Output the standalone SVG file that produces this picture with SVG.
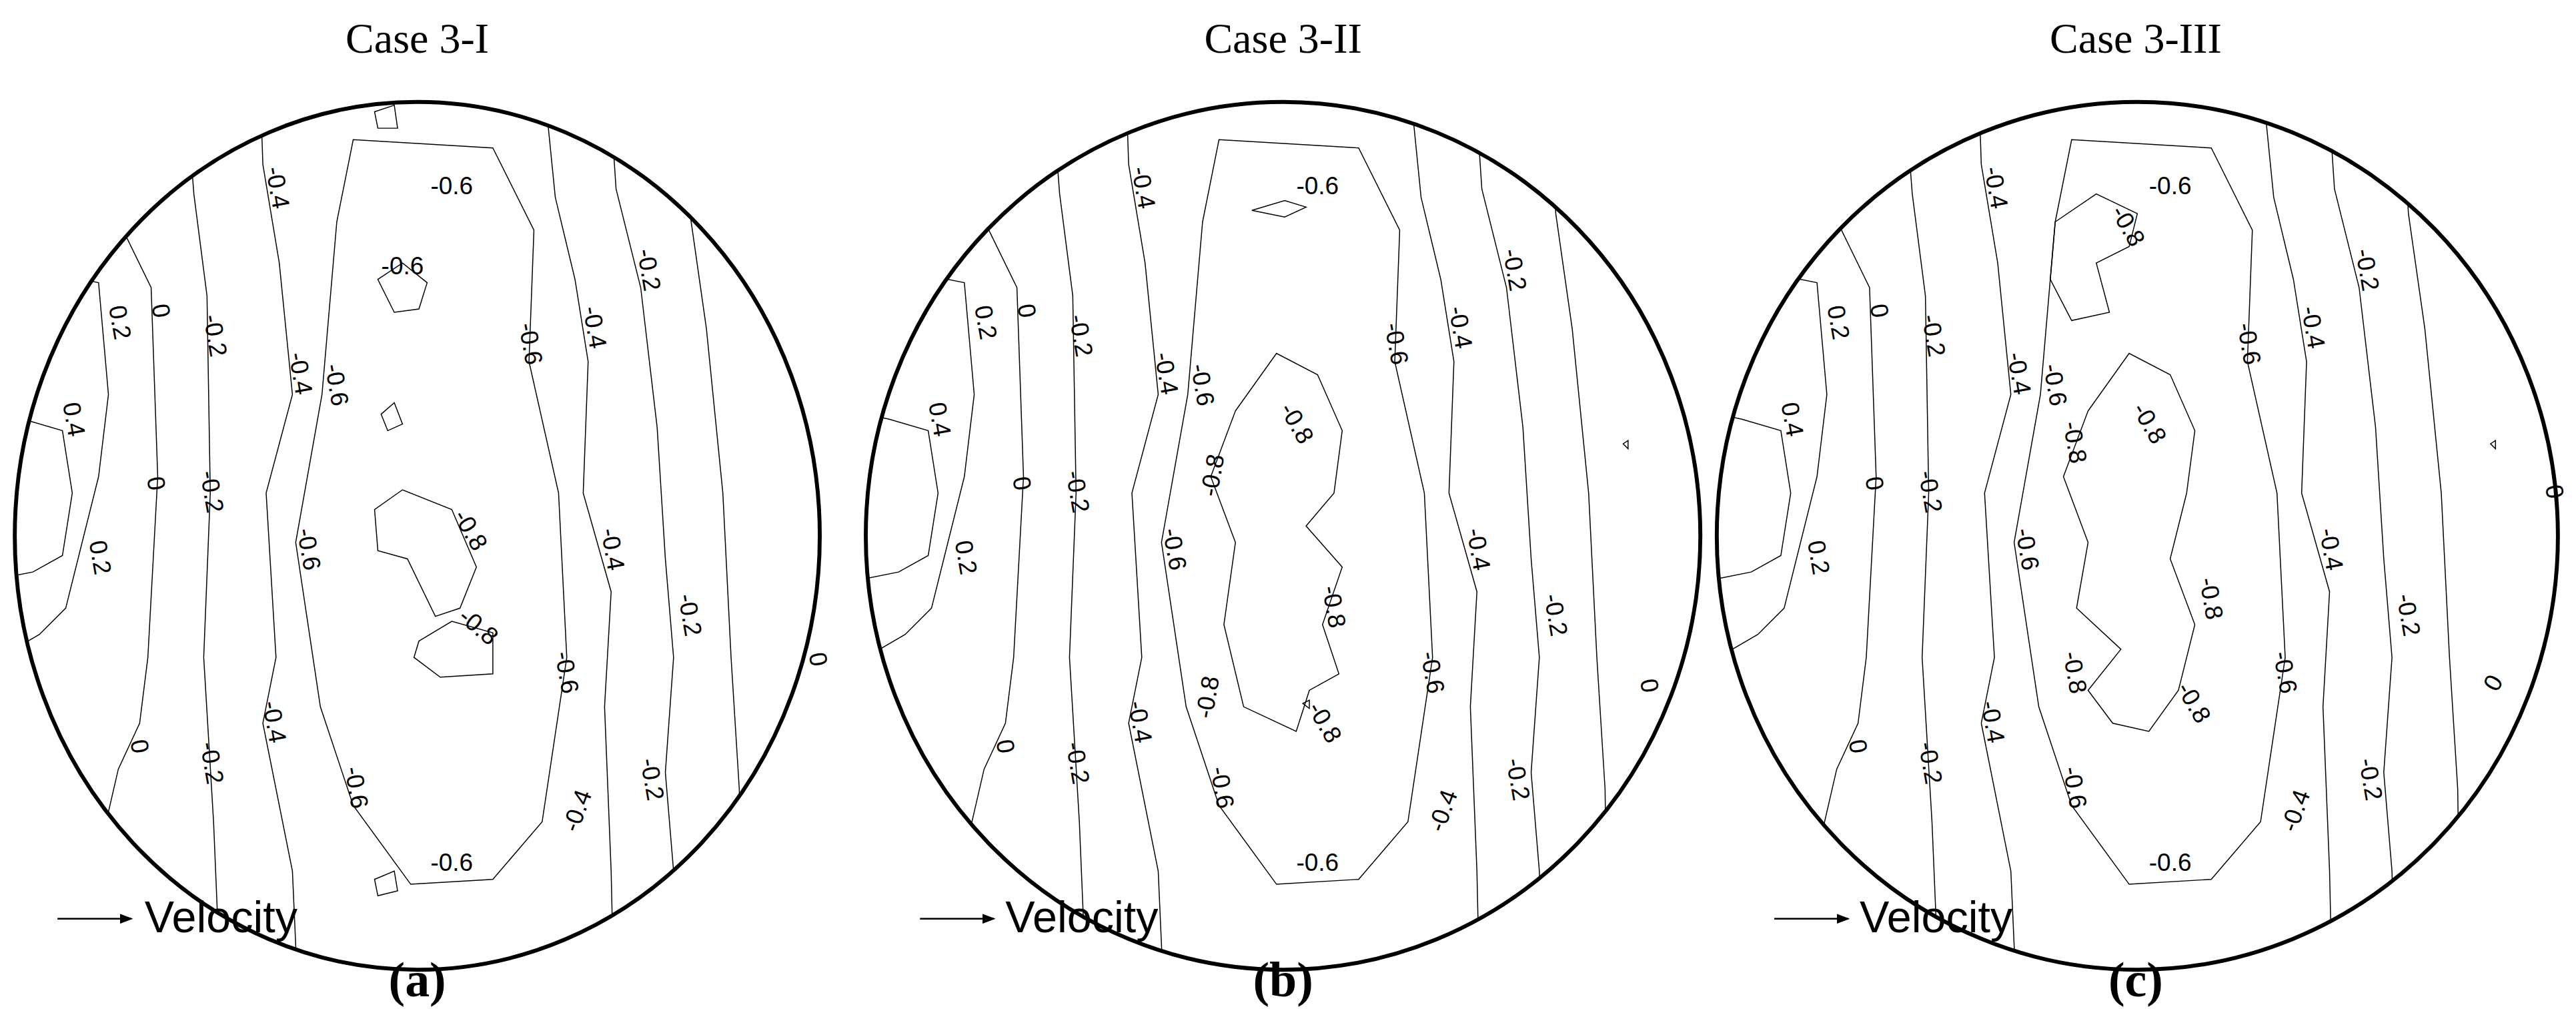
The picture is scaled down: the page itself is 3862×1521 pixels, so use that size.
<svg xmlns="http://www.w3.org/2000/svg" width="3862" height="1521" viewBox="0 0 3862 1521">
<style>
.c{fill:none;stroke:#000;stroke-width:0.6}
.o{fill:none;stroke:#000;stroke-width:2.4}
.l{font-family:"Liberation Sans",Arial,sans-serif;font-size:15px;fill:#000;text-anchor:middle}
.t{font-family:"Liberation Serif","Times New Roman",serif;font-size:26px;fill:#000;text-anchor:middle}
.p{font-family:"Liberation Serif","Times New Roman",serif;font-size:30px;font-weight:bold;fill:#000;text-anchor:middle}
.v{font-family:"Liberation Sans",Arial,sans-serif;font-size:27px;fill:#000}
</style>
<defs>
<marker id="ah" markerWidth="8" markerHeight="6" refX="7" refY="3" orient="auto" markerUnits="userSpaceOnUse"><path d="M0,0 L8,3 L0,6 z" fill="#000"/></marker>
<clipPath id="ca"><ellipse cx="254" cy="326" rx="245" ry="264"/></clipPath>
<clipPath id="cb"><ellipse cx="781" cy="326" rx="254" ry="264"/></clipPath>
<clipPath id="cc"><ellipse cx="1301" cy="326" rx="256" ry="264"/></clipPath>
<g id="lines">
<path class="c" d="M0,252 L14,255 L38,262 L44,300 L38,338 L20,348 L0,352"/>
<path class="c" d="M0,160 L25,165 L60,172 L66,240 L60,290 L50,330 L40,370 L24,386 L0,400"/>
<path class="c" d="M40,60 L70,130 L92,175 L96,290 L90,400 L85,440 L72,468 L60,520"/>
<path class="c" d="M112,40 L118,118 L126,180 L128,300 L124,400 L130,500 L135,620"/>
<path class="c" d="M158,40 L160,100 L170,160 L178,240 L162,300 L168,400 L160,440 L178,530 L182,620"/>
<path class="c" d="M205,135 L215,85 L300,90 L325,140 L322,220 L340,300 L345,400 L330,500 L300,535 L250,538 L215,490 L195,430 L180,330 L196,240 Z"/>
<path class="c" d="M330,40 L338,120 L350,170 L358,220 L355,300 L372,360 L368,430 L372,530 L374,620"/>
<path class="c" d="M370,40 L375,115 L390,175 L400,260 L405,340 L410,400 L405,470 L410,530 L412,620"/>
<path class="c" d="M415,40 L420,130 L430,200 L440,300 L445,400 L450,480 L452,620"/>
</g>
<g id="labels">
<text class="l" transform="translate(40,256) rotate(80)">0.4</text>
<text class="l" transform="translate(68,197) rotate(80)">0.2</text>
<text class="l" transform="translate(56,340) rotate(80)">0.2</text>
<text class="l" transform="translate(93,190) rotate(80)">0</text>
<text class="l" transform="translate(90,295) rotate(80)">0</text>
<text class="l" transform="translate(80,455) rotate(80)">0</text>
<text class="l" transform="translate(126,205) rotate(80)">-0.2</text>
<text class="l" transform="translate(124,300) rotate(80)">-0.2</text>
<text class="l" transform="translate(124,465) rotate(80)">-0.2</text>
<text class="l" transform="translate(164,115) rotate(80)">-0.4</text>
<text class="l" transform="translate(178,228) rotate(80)">-0.4</text>
<text class="l" transform="translate(162,440) rotate(80)">-0.4</text>
<text class="l" transform="translate(200,235) rotate(80)">-0.6</text>
<text class="l" transform="translate(183,335) rotate(80)">-0.6</text>
<text class="l" transform="translate(212,480) rotate(80)">-0.6</text>
<text class="l" transform="translate(318,210) rotate(80)">-0.6</text>
<text class="l" transform="translate(340,410) rotate(80)">-0.6</text>
<text class="l" transform="translate(275,530)">-0.6</text>
<text class="l" transform="translate(275,118)">-0.6</text>
<text class="l" transform="translate(357,200) rotate(80)">-0.4</text>
<text class="l" transform="translate(368,335) rotate(80)">-0.4</text>
<text class="l" transform="translate(356,495) rotate(-70)">-0.4</text>
<text class="l" transform="translate(390,165) rotate(80)">-0.2</text>
<text class="l" transform="translate(415,375) rotate(80)">-0.2</text>
<text class="l" transform="translate(392,475) rotate(80)">-0.2</text>
</g>
</defs>
<g transform="scale(2.463)">
<g id="panel-a">
<text class="t" x="254" y="32">Case 3-I</text>
<g clip-path="url(#ca)"><use href="#lines"/></g>
<use href="#labels"/>
<ellipse class="o" cx="254" cy="326" rx="245" ry="264"/>
<path class="c" d="M228,68 L240,64 L242,78 L230,78 Z"/>
<path class="c" d="M230,170 L245,160 L260,172 L255,188 L240,190 Z"/>
<text class="l" x="245" y="167">-0.6</text>
<path class="c" d="M232,252 L240,245 L245,258 L236,262 Z"/>
<path class="c" d="M228,310 L245,298 L275,310 L290,345 L280,370 L265,375 L248,340 L230,335 Z"/>
<text class="l" transform="translate(282,325) rotate(60)">-0.8</text>
<path class="c" d="M255,390 L275,378 L300,385 L300,410 L268,412 L252,400 Z"/>
<text class="l" transform="translate(288,385) rotate(40)">-0.8</text>
<path class="c" d="M228,535 L240,530 L242,542 L230,545 Z"/>
<text class="l" transform="translate(493,402) rotate(80)">0</text>
<line x1="35" y1="559" x2="80" y2="559" stroke="#000" stroke-width="1" marker-end="url(#ah)"/>
<text class="v" x="88" y="567">Velocity</text>
<text class="p" x="254" y="606">(a)</text>
</g>
<g id="panel-b">
<text class="t" x="781" y="32">Case 3-II</text>
<g clip-path="url(#cb)"><use href="#lines" transform="translate(527,0)"/></g>
<g transform="translate(527,0)"><use href="#labels"/>
<path class="c" d="M235,128 L255,122 L268,126 L255,132 Z"/>
<path class="c" d="M225,250 L250,215 L275,228 L290,262 L285,300 L268,320 L290,345 L278,380 L288,410 L270,420 L262,445 L230,430 L218,380 L225,330 L210,290 Z"/>
<text class="l" transform="translate(258,260) rotate(60)">-0.8</text>
<text class="l" transform="translate(216,290) rotate(-80)">-0.8</text>
<text class="l" transform="translate(280,370) rotate(80)">-0.8</text>
<text class="l" transform="translate(213,425) rotate(-80)">-0.8</text>
<text class="l" transform="translate(275,442) rotate(60)">-0.8</text>
<path class="c" d="M266,428 L270,426 L270,431 Z"/>
<path class="c" d="M461,270 L464,268 L464,273 Z"/>
<text class="l" transform="translate(472,418) rotate(80)">0</text>
</g>
<ellipse class="o" cx="781" cy="326" rx="254" ry="264"/>
<line x1="560" y1="559" x2="605" y2="559" stroke="#000" stroke-width="1" marker-end="url(#ah)"/>
<text class="v" x="612" y="567">Velocity</text>
<text class="p" x="781" y="606">(b)</text>
</g>
<g id="panel-c">
<text class="t" x="1300" y="32">Case 3-III</text>
<g clip-path="url(#cc)"><use href="#lines" transform="translate(1046,0)"/></g>
<g transform="translate(1046,0)"><use href="#labels"/>
<path class="c" d="M205,135 L230,118 L255,130 L250,150 L230,160 L238,190 L215,195 L202,170 Z"/>
<text class="l" transform="translate(245,140) rotate(60)">-0.8</text>
<path class="c" d="M225,250 L250,215 L275,228 L290,262 L285,300 L275,340 L290,380 L280,420 L262,445 L240,440 L225,420 L245,395 L218,370 L225,330 L210,290 Z"/>
<text class="l" transform="translate(258,260) rotate(60)">-0.8</text>
<text class="l" transform="translate(212,270) rotate(80)">-0.8</text>
<text class="l" transform="translate(295,365) rotate(80)">-0.8</text>
<text class="l" transform="translate(212,410) rotate(80)">-0.8</text>
<text class="l" transform="translate(285,430) rotate(60)">-0.8</text>
<path class="c" d="M470,270 L473,268 L473,273 Z"/>
<text class="l" transform="translate(504,300) rotate(80)">0</text>
<text class="l" transform="translate(476,418) rotate(-60)">0</text>
</g>
<ellipse class="o" cx="1301" cy="326" rx="256" ry="264"/>
<line x1="1080" y1="559" x2="1125" y2="559" stroke="#000" stroke-width="1" marker-end="url(#ah)"/>
<text class="v" x="1132" y="567">Velocity</text>
<text class="p" x="1300" y="606">(c)</text>
</g>
</g>
</svg>
